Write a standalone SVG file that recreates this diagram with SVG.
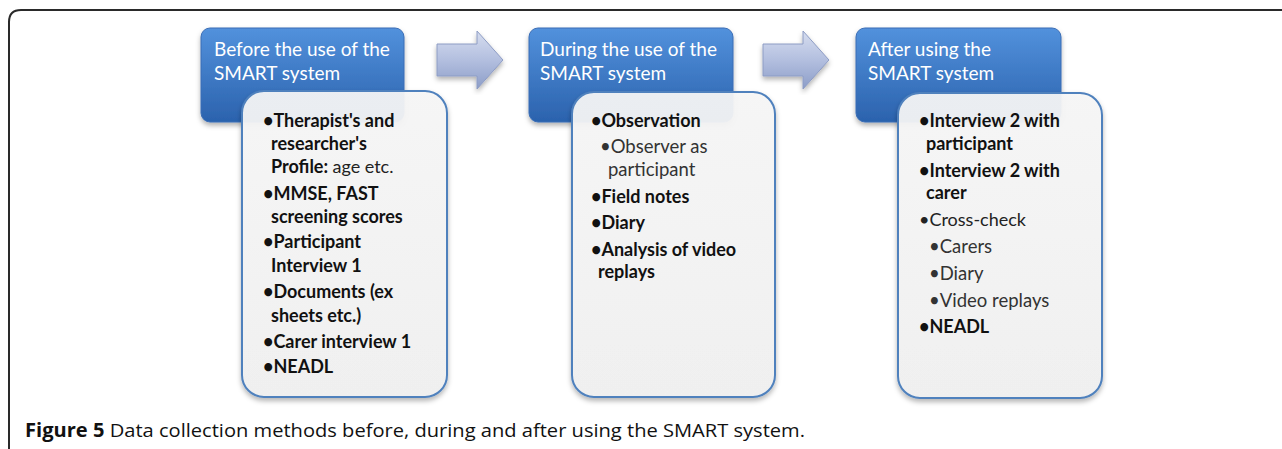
<svg xmlns="http://www.w3.org/2000/svg" width="1282" height="449" viewBox="0 0 1282 449">
<style>
.hdr{fill:url(#gBlue);stroke:#3a6db5;stroke-width:1}
.htxt{font-family:Lato,"Open Sans",sans-serif;font-size:19px;fill:#ffffff}
.card{fill:url(#gCard);fill-opacity:0.93;stroke:#4f81bd;stroke-width:2}
.b{font-family:Lato,"Open Sans",sans-serif;font-size:18px;font-weight:bold;fill:#111}
.n{font-family:Lato,"Open Sans",sans-serif;font-size:18px;fill:#222}
.s{font-family:Lato,"Open Sans",sans-serif;font-size:18.5px;fill:#333}
.cap{font-family:"Open Sans",sans-serif;font-size:19px;fill:#111}
.arrow{fill:url(#gArrow);stroke:#8d9cc4;stroke-width:1}
</style>
<defs>
<linearGradient id="gBlue" x1="0" y1="0" x2="0" y2="1">
<stop offset="0" stop-color="#5291dc"/>
<stop offset="1" stop-color="#2b62ad"/>
</linearGradient>
<linearGradient id="gCard" x1="0" y1="0" x2="0" y2="1">
<stop offset="0" stop-color="#f7f7f7"/>
<stop offset="1" stop-color="#f1f1f1"/>
</linearGradient>
<linearGradient id="gArrow" x1="0" y1="0" x2="0" y2="1">
<stop offset="0" stop-color="#d6ddef"/>
<stop offset="0.5" stop-color="#b3bfdf"/>
<stop offset="1" stop-color="#8c9dc8"/>
</linearGradient>
<filter id="sh" x="-10%" y="-10%" width="120%" height="120%">
<feDropShadow dx="0" dy="3" stdDeviation="2.5" flood-color="#000" flood-opacity="0.3"/>
</filter>
</defs>
<rect width="1282" height="449" fill="#ffffff"/>
<path d="M9,449 V22 Q9,10 21,10 H1282" fill="none" stroke="#2a2a2a" stroke-width="2"/>

<g id="connectors">
<polygon class="arrow" filter="url(#sh)" points="437,44 477,44 477,31 503,60 477,89 477,76 437,76"/>
<polygon class="arrow" filter="url(#sh)" points="763,44 803,44 803,31 829,60 803,89 803,76 763,76"/>
</g>

<g id="node-before">
<rect class="hdr" x="201" y="28" width="203" height="94" rx="9" filter="url(#sh)"/>
<text class="htxt" x="214" y="56">Before the use of the</text>
<text class="htxt" x="214" y="80">SMART system</text>
<rect class="card" x="242" y="91" width="205" height="306" rx="22" filter="url(#sh)"/>
<text class="b" x="263" y="127">•Therapist's and</text>
<text class="b" x="271" y="150">researcher's</text>
<text class="b" x="271" y="173">Profile: <tspan class="n" font-weight="normal">age etc.</tspan></text>
<text class="b" x="263" y="200">•MMSE, FAST</text>
<text class="b" x="271" y="223">screening scores</text>
<text class="b" x="263" y="248">•Participant</text>
<text class="b" x="271" y="272">Interview 1</text>
<text class="b" x="263" y="298">•Documents (ex</text>
<text class="b" x="271" y="322">sheets etc.)</text>
<text class="b" x="263" y="348">•Carer interview 1</text>
<text class="b" x="263" y="373">•NEADL</text>
</g>

<g id="node-during">
<rect class="hdr" x="529" y="28" width="204" height="94" rx="9" filter="url(#sh)"/>
<text class="htxt" x="540" y="56">During the use of the</text>
<text class="htxt" x="540" y="80">SMART system</text>
<rect class="card" x="572" y="92" width="203" height="305" rx="22" filter="url(#sh)"/>
<text class="b" x="591" y="127">•Observation</text>
<text class="s" x="600" y="153">•Observer as</text>
<text class="s" x="608" y="176">participant</text>
<text class="b" x="591" y="203">•Field notes</text>
<text class="b" x="591" y="229">•Diary</text>
<text class="b" x="591" y="256">•Analysis of video</text>
<text class="b" x="598" y="278">replays</text>
</g>

<g id="node-after">
<rect class="hdr" x="856" y="28" width="205" height="94" rx="9" filter="url(#sh)"/>
<text class="htxt" x="868" y="56">After using the</text>
<text class="htxt" x="868" y="80">SMART system</text>
<rect class="card" x="898" y="93" width="204" height="305" rx="22" filter="url(#sh)"/>
<text class="b" x="919" y="127">•Interview 2 with</text>
<text class="b" x="926" y="150">participant</text>
<text class="b" x="919" y="177">•Interview 2 with</text>
<text class="b" x="926" y="199">carer</text>
<text class="n" x="919" y="226">•Cross-check</text>
<text class="s" x="929" y="253">•Carers</text>
<text class="s" x="929" y="280">•Diary</text>
<text class="s" x="929" y="307">•Video replays</text>
<text class="b" x="919" y="333">•NEADL</text>
</g>

<text class="cap" x="25" y="437" textLength="780" lengthAdjust="spacingAndGlyphs"><tspan font-weight="bold">Figure 5</tspan> Data collection methods before, during and after using the SMART system.</text>
</svg>
